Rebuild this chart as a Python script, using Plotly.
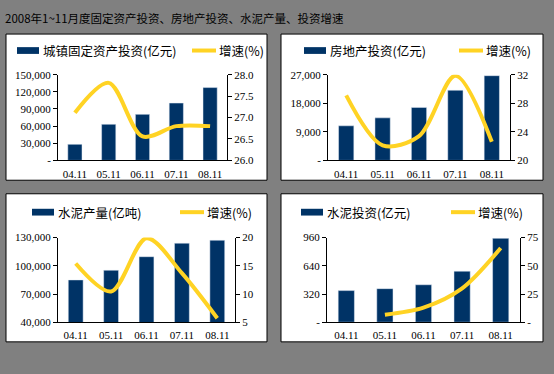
import plotly.graph_objects as go

W, H = 554, 374

title_text = "2008年1~11月度固定资产投资、房地产投资、水泥产量、投资增速"
categories = ["04.11", "05.11", "06.11", "07.11", "08.11"]

# Panel 1: urban fixed asset investment
fai_values = [28100, 63200, 80600, 100400, 127500]
fai_growth = [27.11, 27.81, 26.56, 26.80, 26.80]
# Panel 2: real estate investment
re_values = [10900, 13400, 16700, 22100, 26700]
re_growth = [29.1, 22.1, 23.4, 31.85, 22.6]
# Panel 3: cement output
cem_values = [85000, 95300, 109700, 124100, 127200]
cem_growth = [15.4, 10.45, 19.9, 13.7, 5.7]
# Panel 4: cement investment
ci_values = [359, 381, 425, 579, 952]
ci_growth = [None, 6.6, 12.9, 30.0, 65.8]

legend_bar = ["城镇固定资产投资(亿元)", "房地产投资(亿元)", "水泥产量(亿吨)", "水泥投资(亿元)"]
legend_line = "增速(%)"

left_ticks = [
    ([0, 30000, 60000, 90000, 120000, 150000], ["-", "30,000", "60,000", "90,000", "120,000", "150,000"], [0, 150000]),
    ([0, 9000, 18000, 27000], ["-", "9,000", "18,000", "27,000"], [0, 27000]),
    ([40000, 70000, 100000, 130000], ["40,000", "70,000", "100,000", "130,000"], [40000, 130000]),
    ([0, 320, 640, 960], ["-", "320", "640", "960"], [0, 960]),
]
right_ticks = [
    ([26.0, 26.5, 27.0, 27.5, 28.0], ["26.0", "26.5", "27.0", "27.5", "28.0"], [26, 28]),
    ([20, 24, 28, 32], ["20", "24", "28", "32"], [20, 32]),
    ([5, 10, 15, 20], ["5", "10", "15", "20"], [5, 20]),
    ([0, 25, 50, 75], ["-", "25", "50", "75"], [0, 75]),
]

bar_sets = [fai_values, re_values, cem_values, ci_values]
line_sets = [fai_growth, re_growth, cem_growth, ci_growth]

# layout geometry in pixels
panels = [(6, 29, 267, 180), (281, 29, 543, 180), (6, 194, 267, 347), (281, 194, 543, 347)]
plot_x = [(58, 227), (328, 510), (58, 235), (327, 520)]
plot_y = [(71, 159.5), (71, 159.5), (239.3, 326.7), (239.3, 326.7)]
legend_y = [46, 46, 213, 213]
legend_bar_x = [17, 304, 32, 301]
legend_line_x = [192, 459, 180, 451]

BAR = "#003366"
LINE = "#FFD324"

def px(x):
    return x / W

def py(y):
    return 1 - y / H

fig = go.Figure()
shapes = []
annotations = []
layout_axes = {}

for i in range(4):
    n = i + 1
    xa = "x" if n == 1 else f"x{n}"
    ya_l = f"y{2*n-1}" if n > 1 else "y"
    ya_r = f"y{2*n}"
    fig.add_trace(go.Bar(x=categories, y=bar_sets[i], marker_color=BAR, width=0.42,
                         xaxis=xa, yaxis=ya_l, showlegend=False, hoverinfo="skip"))
    fig.add_trace(go.Scatter(x=categories, y=line_sets[i], mode="lines",
                             line=dict(color=LINE, width=4, shape="spline", smoothing=0.9),
                             connectgaps=False,
                             xaxis=xa, yaxis=ya_r, showlegend=False, hoverinfo="skip"))
    xk = "xaxis" if n == 1 else f"xaxis{n}"
    ylk = "yaxis" if n == 1 else f"yaxis{2*n-1}"
    yrk = f"yaxis{2*n}"
    ydom = [py(plot_y[i][1]), py(plot_y[i][0])]
    layout_axes[xk] = dict(domain=[px(plot_x[i][0]), px(plot_x[i][1])], anchor=ya_l,
                           type="category", range=[-0.5, 4.5], showline=True, linecolor="black",
                           linewidth=1, ticks="", showgrid=False, zeroline=False,
                           tickfont=dict(family="Liberation Serif", size=11, color="black"),
                           ticklabelstandoff=3)
    tv, tt, rng = left_ticks[i]
    layout_axes[ylk] = dict(domain=ydom, anchor=xa, range=rng, tickvals=tv, ticktext=tt,
                            showline=True, linecolor="black", linewidth=1, ticks="outside",
                            ticklen=4, tickcolor="black", showgrid=False, zeroline=False,
                            tickfont=dict(family="Liberation Serif", size=11, color="black"))
    tv, tt, rng = right_ticks[i]
    layout_axes[yrk] = dict(domain=ydom, anchor=xa, overlaying=ya_l, side="right", range=rng,
                            tickvals=tv, ticktext=tt, showline=True, linecolor="black",
                            linewidth=1, ticks="outside", ticklen=4, tickcolor="black",
                            showgrid=False, zeroline=False,
                            tickfont=dict(family="Liberation Serif", size=11, color="black"))

    x0, y0, x1, y1 = panels[i]
    shapes.append(dict(type="rect", xref="paper", yref="paper", x0=px(x0), x1=px(x1),
                       y0=py(y1), y1=py(y0), fillcolor="white",
                       line=dict(color="black", width=1), layer="below"))
    ly = legend_y[i]
    bx = legend_bar_x[i]
    shapes.append(dict(type="rect", xref="paper", yref="paper", x0=px(bx), x1=px(bx + 22),
                       y0=py(ly + 3.5), y1=py(ly - 3.5), fillcolor=BAR, line=dict(width=0)))
    annotations.append(dict(text=legend_bar[i], xref="paper", yref="paper", x=px(bx + 24),
                            y=py(ly), xanchor="left", yanchor="middle", showarrow=False,
                            font=dict(family="Noto Sans CJK SC", size=12.5, color="black")))
    lx = legend_line_x[i]
    shapes.append(dict(type="line", xref="paper", yref="paper", x0=px(lx), x1=px(lx + 24),
                       y0=py(ly), y1=py(ly), line=dict(color=LINE, width=4)))
    annotations.append(dict(text=legend_line, xref="paper", yref="paper", x=px(lx + 25),
                            y=py(ly), xanchor="left", yanchor="middle", showarrow=False,
                            font=dict(family="Noto Sans CJK SC", size=12.5, color="black")))

annotations.append(dict(text=title_text, xref="paper", yref="paper", x=px(3), y=py(12),
                        xanchor="left", yanchor="middle", showarrow=False,
                        font=dict(family="Noto Sans CJK SC", size=11.5, color="black")))

fig.update_layout(width=W, height=H, margin=dict(l=0, r=0, t=0, b=0),
                  paper_bgcolor="#808080", plot_bgcolor="rgba(0,0,0,0)",
                  shapes=shapes, annotations=annotations, bargap=0.5, showlegend=False,
                  **layout_axes)

fig.write_html("out.html", config={"displayModeBar": False},
               post_script="document.body.style.margin='0';document.body.style.overflow='hidden';")
